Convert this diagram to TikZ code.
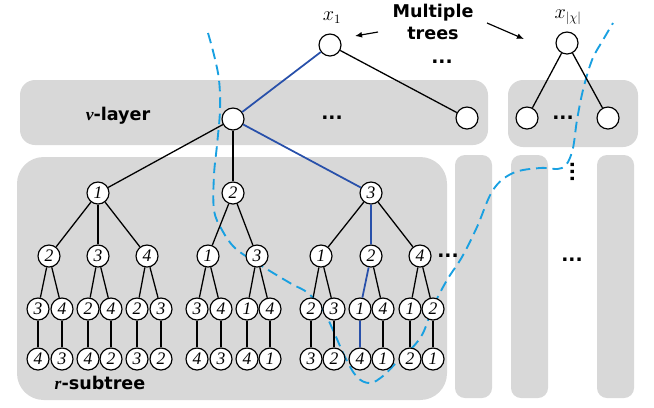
\documentclass[tikz,border=0pt]{standalone}
\usepackage{fontspec}
\setmainfont{Liberation Serif}
\newfontfamily\headfont{DejaVu Sans}
\usetikzlibrary{arrows, arrows.meta}

\definecolor{panelgray}{RGB}{216,216,216}
\definecolor{pathblue}{RGB}{40,80,170}
\definecolor{cutblue}{RGB}{25,160,225}

\tikzset{
  vtx/.style={circle, draw, fill=white, line width=1pt, inner sep=0pt, minimum size=0.66cm},
  num/.style={vtx, font=\fontsize{15}{15}\selectfont\itshape},
  panel/.style={fill=panelgray, rounded corners=0.45cm},
  strip/.style={fill=panelgray, rounded corners=0.3cm},
  bighead/.style={font=\headfont\bfseries\fontsize{15}{19}\selectfont, align=center, inner sep=0pt},
  ddd/.style={font=\headfont\bfseries\fontsize{16}{16}\selectfont, inner sep=0pt},
  tedge/.style={line width=1.1pt},
  hot/.style={draw=pathblue, line width=1.5pt},
  pointer/.style={line width=1pt, -{Latex[length=6pt, width=5pt]}},
  cut/.style={draw=cutblue, line width=1.6pt, dash pattern=on 9pt off 5pt},
}

\begin{document}
\begin{tikzpicture}[x=0.03cm, y=-0.03cm]
    \useasboundingbox (0,0) rectangle (654,407);

    % grey layers
    \fill[panel] (20,80) rectangle (488,145);
    \fill[panel] (508,80) rectangle (638,147);
    \fill[panel, rounded corners=0.8cm] (17,157) rectangle (447,400);
    \fill[strip] (455,155) rectangle (492,398);
    \fill[strip] (511,155) rectangle (548,398);
    \fill[strip] (597,155) rectangle (634,398);

    % cut line
    \draw[cut] plot[smooth, tension=0.6] coordinates {
      (208,33) (214,55) (219,80) (220,110) (217,145) (214,175) (214,210)
      (222,230) (235,248) (257,263) (290,283) (308,293) (323,310) (333,330)
      (345,357) (357,377) (370,383) (383,376) (397,362) (412,348) (423,333)
      (433,307) (447,280) (462,257) (477,227) (493,190) (513,173) (540,168)
      (562,168) (572,152) (577,120) (583,90) (592,60) (603,40) (613,23)};

    % roots and v-layer
    \node[vtx] (r1) at (330,45) {};
    \node[vtx] (rk) at (567,43) {};
    \node[vtx] (v) at (233,119) {};
    \node[vtx] (vr) at (467,118) {};
    \node[vtx] (kl) at (527,118) {};
    \node[vtx] (kr) at (608,118) {};
    \node[font=\fontsize{16}{16}\selectfont] (lr1) at (332,18) {$x_1$};
    \node[font=\fontsize{16}{16}\selectfont] (lrk) at (568,17) {$x_{|\chi|}$};

    % r-subtree, first level
    \node[num] (a) at (98,193) {1};
    \node[num] (b) at (233,193) {2};
    \node[num] (c) at (371,193) {3};

    \node[num] (a2) at (49,256) {2};
    \node[num] (a3) at (98,256) {3};
    \node[num] (a4) at (147,256) {4};
    \node[num] (b1) at (208,256) {1};
    \node[num] (b3) at (257,256) {3};
    \node[num] (c1) at (321,256) {1};
    \node[num] (c2) at (371,256) {2};
    \node[num] (c4) at (420,256) {4};

    \node[num] (a23) at (38,309) {3};
    \node[num] (a24) at (62,309) {4};
    \node[num] (a32) at (88,309) {2};
    \node[num] (a34) at (111,309) {4};
    \node[num] (a42) at (137,309) {2};
    \node[num] (a43) at (161,309) {3};
    \node[num] (b13) at (197,309) {3};
    \node[num] (b14) at (221,309) {4};
    \node[num] (b31) at (247,309) {1};
    \node[num] (b34) at (270,309) {4};
    \node[num] (c12) at (311,309) {2};
    \node[num] (c13) at (334,309) {3};
    \node[num] (c21) at (360,309) {1};
    \node[num] (c24) at (383,309) {4};
    \node[num] (c41) at (410,309) {1};
    \node[num] (c42) at (433,309) {2};

    \node[num] (a234) at (38,359) {4};
    \node[num] (a243) at (62,359) {3};
    \node[num] (a324) at (88,359) {4};
    \node[num] (a342) at (111,359) {2};
    \node[num] (a423) at (137,359) {3};
    \node[num] (a432) at (161,359) {2};
    \node[num] (b134) at (197,359) {4};
    \node[num] (b143) at (221,359) {3};
    \node[num] (b314) at (247,359) {4};
    \node[num] (b341) at (270,359) {1};
    \node[num] (c123) at (311,359) {3};
    \node[num] (c132) at (334,359) {2};
    \node[num] (c214) at (360,359) {4};
    \node[num] (c241) at (383,359) {1};
    \node[num] (c412) at (410,359) {2};
    \node[num] (c421) at (433,359) {1};

    % edges
    \draw[hot] (r1) -- (v) -- (c) -- (c2) -- (c21) -- (c214);
    \draw[tedge] (r1) -- (vr);
    \draw[tedge] (rk) -- (kl);
    \draw[tedge] (rk) -- (kr);
    \draw[tedge] (v) -- (a);
    \draw[tedge] (v) -- (b);
    \draw[tedge] (a) -- (a2);
    \draw[tedge] (a) -- (a3);
    \draw[tedge] (a) -- (a4);
    \draw[tedge] (b) -- (b1);
    \draw[tedge] (b) -- (b3);
    \draw[tedge] (c) -- (c1);
    \draw[tedge] (c) -- (c4);
    \draw[tedge] (a23) -- (a2) -- (a24);
    \draw[tedge] (a32) -- (a3) -- (a34);
    \draw[tedge] (a42) -- (a4) -- (a43);
    \draw[tedge] (b13) -- (b1) -- (b14);
    \draw[tedge] (b31) -- (b3) -- (b34);
    \draw[tedge] (c12) -- (c1) -- (c13);
    \draw[tedge] (c2) -- (c24);
    \draw[tedge] (c41) -- (c4) -- (c42);
    \draw[tedge] (a23) -- (a234);
    \draw[tedge] (a24) -- (a243);
    \draw[tedge] (a32) -- (a324);
    \draw[tedge] (a34) -- (a342);
    \draw[tedge] (a42) -- (a423);
    \draw[tedge] (a43) -- (a432);
    \draw[tedge] (b13) -- (b134);
    \draw[tedge] (b14) -- (b143);
    \draw[tedge] (b31) -- (b314);
    \draw[tedge] (b34) -- (b341);
    \draw[tedge] (c12) -- (c123);
    \draw[tedge] (c13) -- (c132);
    \draw[tedge] (c24) -- (c241);
    \draw[tedge] (c41) -- (c412);
    \draw[tedge] (c42) -- (c421);

    % labels
    \node[bighead] (mt) at (433,22) {Multiple\\trees};
    \coordinate (m1s) at (378,32);
    \coordinate (m1e) at (355,36);
    \coordinate (m2s) at (487,23);
    \coordinate (m2e) at (524,39);
    \draw[pointer] (m1s) -- (m1e);
    \draw[pointer] (m2s) -- (m2e);
    \node[bighead] (vl) at (118,116) {{\rmfamily\itshape v}-layer};
    \node[bighead] (rs) at (100,383) {{\rmfamily\itshape r}-subtree};

    \node[ddd] (d1) at (442,62) {...};
    \node[ddd] (d2) at (332,118) {...};
    \node[ddd] (d3) at (563,118) {...};
    \node[ddd] (d4) at (448,256) {...};
    \node[ddd] (d5) at (572,260) {...};
    \node[ddd, rotate=90] (d6) at (573,172) {...};
  \end{tikzpicture}
\end{document}
